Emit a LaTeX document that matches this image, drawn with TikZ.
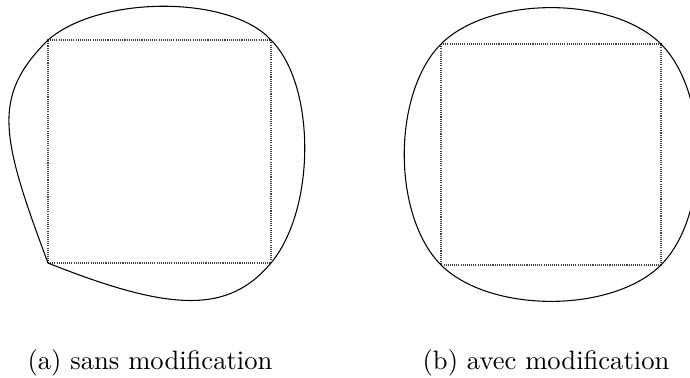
\documentclass[tikz,border=0pt]{standalone}
\usepackage{tikz}
\usetikzlibrary{positioning,calc}
\tikzset{
  contour/.style = {thin, line join=round},
  carre/.style   = {thin, black!75, dash pattern=on 0.4pt off 0.4pt},
  legende/.style = {anchor=base, inner sep=0pt}
}

\begin{document}
\begin{tikzpicture}[x=0.376pt,y=-0.376pt]
\useasboundingbox (0,0) rectangle (690,378);
% (a) sans modification
\coordinate (a1) at (48,263);
\coordinate (a2) at (271,263);
\coordinate (a3) at (271,40);
\coordinate (a4) at (48,40);
\draw[carre] (a1) -- (a2) -- (a3) -- (a4) -- cycle;
\draw[contour] (a1) .. controls (173,313) and (229,313) .. (a2)
  .. controls (316,209) and (316,85) .. (a3)
  .. controls (230,-5) and (100,-5) .. (a4)
  .. controls (-8,96) and (0,135) .. (a1);
\node[legende] (lega) at (150,370) {(a) sans modification};
% (b) avec modification
\coordinate (b1) at (441,44);
\coordinate (b2) at (661,44);
\coordinate (b3) at (661,265);
\coordinate (b4) at (441,265);
\draw[carre] (b1) -- (b2) -- (b3) -- (b4) -- cycle;
\draw[contour] (b1) .. controls (490,-4.5) and (612,-4.5) .. (b2)
  .. controls (710,93.5) and (710,215.5) .. (b3)
  .. controls (612,313.5) and (490,313.5) .. (b4)
  .. controls (392,215.5) and (392,93.5) .. (b1) -- cycle;
\node[legende] (legb) at (546,370) {(b) avec modification};
\end{tikzpicture}
\end{document}
